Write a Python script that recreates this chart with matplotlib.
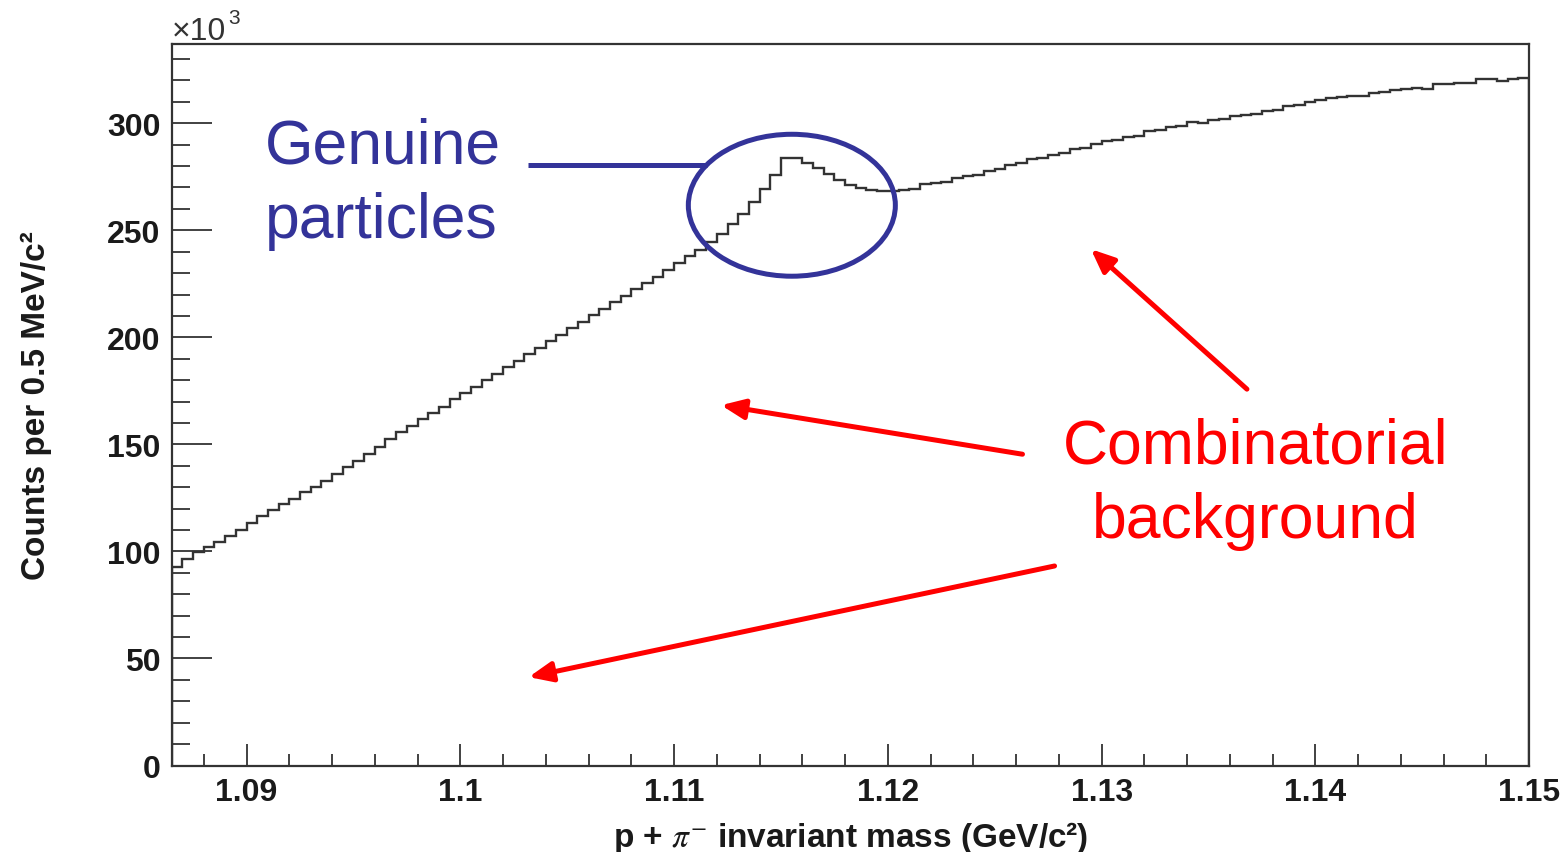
import matplotlib
matplotlib.use('Agg')
import matplotlib.pyplot as plt
import numpy as np
from matplotlib.patches import Ellipse
from matplotlib.ticker import MultipleLocator

# histogram: p + pi- invariant mass, 0.5 MeV bins, counts in units of 10^3
massLow = 1.0865
binWidth = 0.0005
counts = [
    92.9, 96.5, 99.6, 102.0, 104.6, 107.4, 109.9, 113.4, 116.6, 119.2,
    122.1, 124.6, 127.6, 130.2, 133.0, 136.1, 139.3, 142.2, 145.5, 148.6,
    152.4, 155.6, 158.7, 161.8, 164.6, 167.5, 171.0,
    173.8, 177.0, 180.1, 183.0, 186.2, 189.1, 192.3, 195.0, 198.2, 201.1,
    204.3, 207.2, 210.3, 213.4, 216.3, 219.4, 222.4, 225.4, 228.4, 231.4,
    234.6, 237.8, 241.0, 244.5, 248.4, 252.8, 257.8, 263.4, 269.4, 276.0,
    283.6, 283.8, 281.4, 279.0, 276.4, 273.4, 271.0, 269.7, 268.7, 268.3,
    268.3,
    268.9, 269.4, 271.6, 272.2, 272.6, 274.6, 275.3, 275.8, 277.8, 278.6,
    280.6, 281.3, 283.2, 283.9, 285.3, 285.9, 287.9, 288.6, 290.4, 291.7,
    292.2, 293.5, 294.1, 296.2, 296.9, 298.3, 298.9, 300.6, 300.2, 301.6,
    302.1, 303.6, 304.0, 304.4, 305.8, 306.4, 307.9, 308.6, 310.1, 310.7,
    311.9, 312.3, 312.6, 312.8, 314.3, 314.8, 315.6, 316.0, 316.3, 316.1,
    318.2, 318.5, 318.6, 318.7, 320.6, 320.9, 319.6, 320.6, 321.0,
]
xTicks = [1.09, 1.10, 1.11, 1.12, 1.13, 1.14, 1.15]
xTickLabels = ['1.09', '1.1', '1.11', '1.12', '1.13', '1.14', '1.15']
yTicks = [0, 50, 100, 150, 200, 250, 300]

BLUE = '#333399'
RED = '#ff0000'

plt.rcParams['font.family'] = ['Liberation Sans', 'DejaVu Sans']
plt.rcParams['mathtext.fontset'] = 'stix'

fig = plt.figure(figsize=(15.67, 8.53), dpi=100)
ax = fig.add_axes([0.1096, 0.1014, 0.8662, 0.8458])

edges = massLow + binWidth * np.arange(len(counts) + 1)
ax.stairs(counts, edges, color='#333333', lw=1.7)

ax.set_xlim(massLow, 1.15)
ax.set_ylim(0, 337)

# ROOT-ish axes: inward ticks on left/bottom only
ax.set_xticks(xTicks)
ax.set_xticklabels(xTickLabels)
ax.set_yticks(yTicks)
ax.xaxis.set_minor_locator(MultipleLocator(0.002))
ax.yaxis.set_minor_locator(MultipleLocator(10))
ax.tick_params(axis='y', which='major', direction='in', length=29, width=1.3, pad=8,
               labelsize=23, color='#333333')
ax.tick_params(axis='y', which='minor', direction='in', length=13, width=1.3, color='#333333')
ax.tick_params(axis='x', which='major', direction='in', length=16, width=1.3, pad=8,
               labelsize=23, color='#333333')
ax.tick_params(axis='x', which='minor', direction='in', length=8.5, width=1.3, color='#333333')
for lab in ax.get_xticklabels() + ax.get_yticklabels():
    lab.set_fontweight('bold')
    lab.set_color('#1a1a1a')
for spine in ax.spines.values():
    spine.set_color('#333333')
    spine.set_linewidth(1.6)

ax.set_ylabel('Counts per 0.5 MeV/c²', fontsize=24, fontweight='bold', color='#1a1a1a')
ax.yaxis.set_label_coords(-0.088, 0.5)
ax.set_xlabel(r'p + $\pi^{-}$ invariant mass (GeV/c²)', fontsize=24, fontweight='bold',
              color='#1a1a1a')
ax.xaxis.set_label_coords(0.5, -0.074)

# x10^3 multiplier above the y axis
ax.text(0, 1.007, '×10', transform=ax.transAxes, ha='left', va='baseline',
        fontsize=23, color='#333333')
ax.text(0.0415, 1.029, '3', transform=ax.transAxes, ha='left', va='baseline',
        fontsize=15, color='#333333')

# signal annotation
ax.text(1.09086, 281.8, 'Genuine', color=BLUE, fontsize=45, va='baseline')
ax.text(1.09086, 246.8, 'particles', color=BLUE, fontsize=45, va='baseline')
ax.plot([1.10316, 1.11154], [280.4, 280.4], color=BLUE, lw=3.6, solid_capstyle='butt')
ax.add_patch(Ellipse((1.11551, 261.7), 0.009685, 66.3, fill=False, ec=BLUE, lw=3.6))

# background annotation
ax.text(1.1372, 141.7, 'Combinatorial', color=RED, fontsize=45, ha='center', va='baseline')
ax.text(1.1372, 106.7, 'background', color=RED, fontsize=45, ha='center', va='baseline')
arrows = [((1.1295, 241.2), (1.1368, 175.8)),
          ((1.1122, 168.3), (1.1263, 145.4)),
          ((1.1032, 41.3), (1.1278, 93.2))]
for head, tail in arrows:
    ax.annotate('', xy=head, xytext=tail,
                arrowprops=dict(arrowstyle='-|>,head_length=0.7,head_width=0.3',
                                color=RED, lw=3.6, shrinkA=0, shrinkB=0,
                                mutation_scale=20))

fig.savefig('out.png', dpi=100)
